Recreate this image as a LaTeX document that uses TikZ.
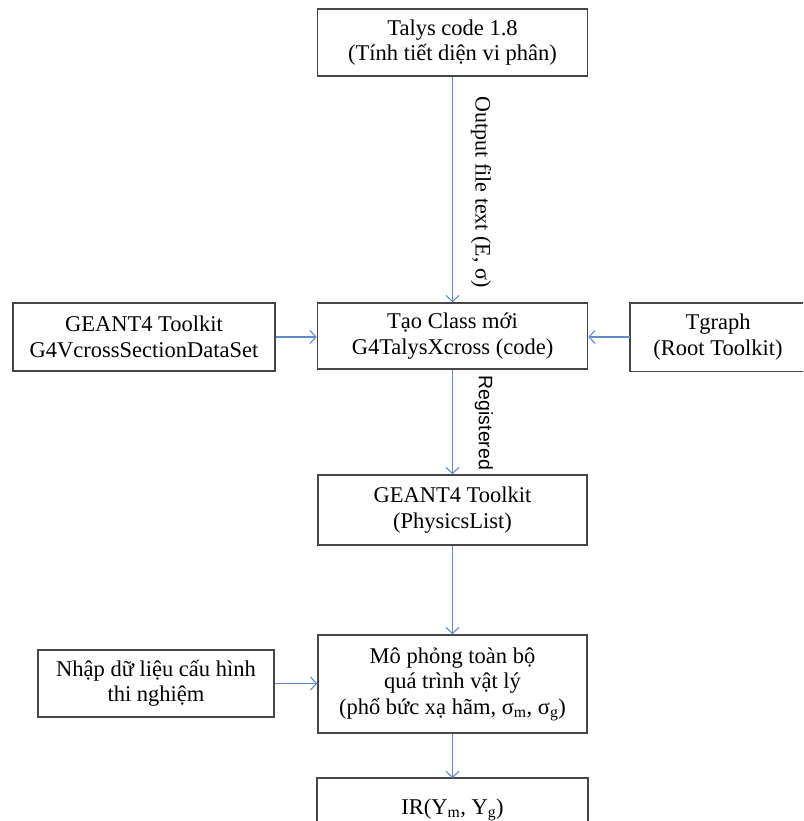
\documentclass[tikz,border=0pt]{standalone}
\usepackage{fontspec}
\setmainfont{Liberation Serif}
\setsansfont{Liberation Sans}
\usetikzlibrary{arrows.meta}
\definecolor{arrowblue}{RGB}{96,140,205}
\definecolor{boxgray}{RGB}{70,70,70}
\tikzset{
  boxline/.style={draw=boxgray, line width=1.6pt},
  box/.style={boxline, fill=white, align=center, inner sep=2pt,
    font=\fontsize{22.5}{25.5}\selectfont},
  conn/.style={draw=arrowblue, line width=1.1pt, -{Straight Barb[length=6pt,width=13pt,line width=1.1pt]}},
  lbl/.style={rotate=-90, font=\fontsize{22}{24}\selectfont, inner sep=0pt}
}
\begin{document}
\begin{tikzpicture}[x=1pt,y=-1pt]
\useasboundingbox (0,0) rectangle (803,821);
\clip (0,0) rectangle (803,821);
\fill[white] (0,0) rectangle (803,821);
\node[box, minimum width=270, minimum height=67] (talys) at (452.5,42.5) {Talys code 1.8\\(Tính tiết diện vi phân)};
\node[box, minimum width=270, minimum height=66] (tao) at (452.5,336) {Tạo Class mới\\G4TalysXcross (code)};
\node[box, minimum width=262, minimum height=68] (geant) at (144,337) {GEANT4 Toolkit\\G4VcrossSectionDataSet};
\node[box, draw=none, minimum width=172, minimum height=67] (tgraphbox) at (717,337) {};
\draw[boxline] ([xshift=20pt]tgraphbox.north east) -- (tgraphbox.north west) -- (tgraphbox.south west) -- ([xshift=20pt]tgraphbox.south east);
\node[align=center, font=\fontsize{22.5}{25.5}\selectfont, inner sep=0pt] (tgraph) at (718,337) {Tgraph\\(Root Toolkit)};
\node[box, minimum width=269, minimum height=70] (phys) at (452.5,510) {GEANT4 Toolkit\\(PhysicsList)};
\node[box, minimum width=269, minimum height=98] (mo) at (452.5,684) {Mô phỏng toàn bộ\\quá trình vật lý\\(phổ bức xạ hãm, σ\textsubscript{m}, σ\textsubscript{g})};
\node[box, minimum width=236, minimum height=67] (nhap) at (156,683.5) {Nhập dữ liệu cấu hình\\thi nghiệm};
\node[box, draw=none, minimum width=269, minimum height=62, anchor=north] (ir) at (452.5,778) {IR(Y\textsubscript{m}, Y\textsubscript{g})};
\draw[boxline] (ir.south west) -- (ir.north west) -- (ir.north east) -- (ir.south east);
\draw[conn] (talys) -- (tao);
\draw[conn] (geant) -- (geant.east -| tao.west);
\draw[conn] (tgraphbox.west) -- (tgraphbox.west -| tao.east);
\draw[conn] (tao) -- (phys);
\draw[conn] (phys) -- (mo);
\draw[conn] (nhap) -- (nhap.east -| mo.west);
\draw[conn] (mo) -- (ir);
\node[lbl] (lout) at (481,192) {Output file text (E, σ)};
\node[lbl, font=\sffamily\fontsize{19.5}{22}\selectfont] (lreg) at (484,423) {Registered};
\end{tikzpicture}
\end{document}
